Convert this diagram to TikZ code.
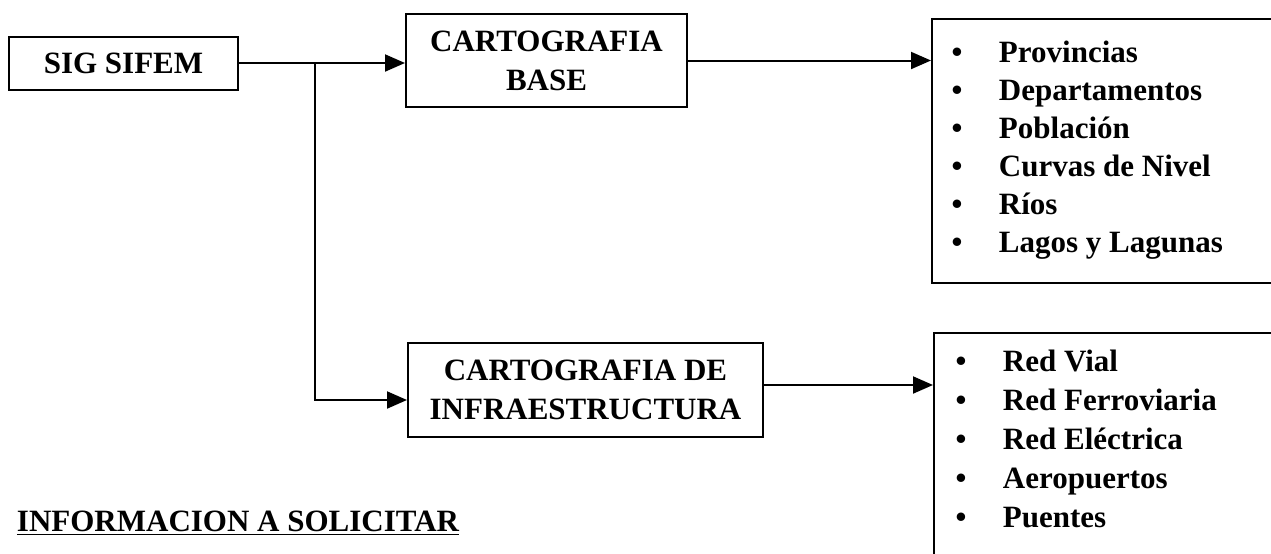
\documentclass[tikz,border=0pt]{standalone}
\usepackage{fontspec}
\setmainfont{Liberation Serif}
\usetikzlibrary{arrows.meta,positioning}

\newcommand{\itembul}{\makebox[0pt]{\textbullet}\hspace{21pt}}

\begin{document}
\begin{tikzpicture}
[
  x=0.5pt, y=-0.5pt,
  box/.style={rectangle, draw, align=center, inner sep=0pt},
  item/.style={anchor=base west, inner sep=0pt},
  >={Triangle[length=10pt,width=8.5pt]},
  font=\fontsize{15.5}{19.5}\selectfont\bfseries,
  line width=1pt
]
 \useasboundingbox (0,0) rectangle (1271,553);
 \clip (0,0) rectangle (1271,553);

 \node[box, minimum width=114.5pt, minimum height=26.5pt] (sig) at (123.5,63) {SIG SIFEM};
 \node[box, minimum width=140.5pt, minimum height=46.5pt] (base) at (546.5,60.5) {CARTOGRAFIA\\BASE};
 \node[box, minimum width=177.5pt, minimum height=47pt] (infra) at (585.5,390) {CARTOGRAFIA DE\\INFRAESTRUCTURA};
 \node[box, minimum width=190pt, minimum height=132pt] (capas) at (1122,151) {};
 \node[box, minimum width=190pt, minimum height=130pt] (redes) at (1124,463) {};

 % capas de cartografia base
 \node[item] (p1) at (956,62) {\itembul Provincias};
 \node[item] (p2) at (956,100) {\itembul Departamentos};
 \node[item] (p3) at (956,138) {\itembul Población};
 \node[item] (p4) at (956,176) {\itembul Curvas de Nivel};
 \node[item] (p5) at (956,214) {\itembul Ríos};
 \node[item] (p6) at (956,252) {\itembul Lagos y Lagunas};

 % capas de infraestructura
 \node[item] (r1) at (960,371) {\itembul Red Vial};
 \node[item] (r2) at (960,410) {\itembul Red Ferroviaria};
 \node[item] (r3) at (960,449) {\itembul Red Eléctrica};
 \node[item] (r4) at (960,488) {\itembul Aeropuertos};
 \node[item] (r5) at (960,527) {\itembul Puentes};

 \node[item] (titulo) at (16,531) {\underline{INFORMACION A SOLICITAR}};

 \coordinate (split) at (315,63);
 \draw[->] (sig.east) -- (sig.east -| base.west);
 \draw[->] (split) |- ([yshift=-5pt]infra.west);
 \draw[->] (base.east) -- (base.east -| capas.west);
 \draw[->] ([yshift=2.5pt]infra.east) -- ([yshift=2.5pt]infra.east -| redes.west);
\end{tikzpicture}
\end{document}
